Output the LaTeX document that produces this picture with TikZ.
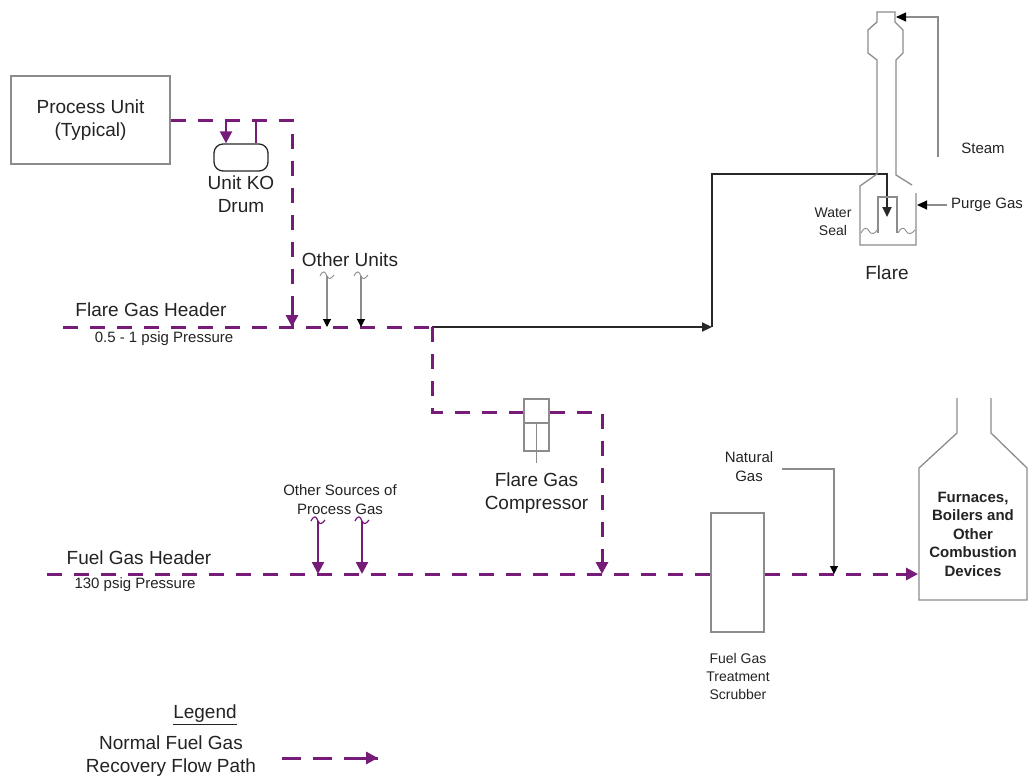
\documentclass[tikz,border=0pt]{standalone}
\usepackage{fontspec}
\setmainfont{Liberation Sans}
\usetikzlibrary{arrows.meta}
\definecolor{pur}{RGB}{118,28,120}
\definecolor{txt}{RGB}{35,35,35}
\definecolor{gry}{RGB}{140,140,140}
\definecolor{blk}{RGB}{40,40,40}
\begin{document}
\begin{tikzpicture}[x=1pt,y=-1pt,
  big/.style={font=\fontsize{19}{23}\selectfont, text=txt, align=center, inner sep=0pt},
  small/.style={font=\fontsize{15}{19}\selectfont, text=txt, align=center, inner sep=0pt},
  tiny/.style={font=\fontsize{14}{18}\selectfont, text=txt, align=center, inner sep=0pt},
  boldlab/.style={font=\bfseries\fontsize{15}{18.5}\selectfont, text=txt, align=center, inner sep=0pt},
  flow/.style={draw=pur, line width=3pt, dash pattern=on 15pt off 12pt},
  flowsolid/.style={draw=pur, line width=3pt},
  purtip/.style={-{Triangle[length=12pt,width=12pt]}},
  thinpur/.style={draw=pur, line width=2.3pt},
  equip/.style={draw=gry, line width=1.3pt},
  feed/.style={draw=gry, line width=1.1pt, -{Triangle[length=8pt,width=8pt,color=black]}},
  flareline/.style={draw=blk, line width=2.2pt},
  blktip/.style={-{Triangle[length=10pt,width=9pt]}},
]
\useasboundingbox (0,0) rectangle (1034,776);

% ---------- Process unit and KO drum
\node[equip, minimum width=159pt, minimum height=88pt, big] (pu) at (90.5,120) {Process Unit\\(Typical)};
\node[equip, draw=blk, rounded corners=9pt, minimum width=54pt, minimum height=27pt, inner sep=0pt] (drum) at (241,157.5) {};
\node[big] (drumlab) at (241,194.5) {Unit KO\\Drum};
\coordinate (in1) at (226,120);
\coordinate (out1) at (256,120);
\coordinate (dropT) at (292,120);
\coordinate (dropB) at (292,327);
\draw[flow] (pu.east) -- (dropT) -- (dropB);
\draw[flowsolid, purtip] (292,305) -- (dropB);
\draw[thinpur, purtip] (in1) -- (drum.north -| in1);
\draw[thinpur] (drum.north -| out1) -- (out1);

% ---------- Flare gas header
\coordinate (fgL) at (63,327);
\coordinate (fgJ) at (432,327);
\draw[flow] (fgL) -- (fgJ);
\node[big] (fghlab) at (151,310) {Flare Gas Header};
\node[small] (fghp) at (164,339) {0.5 - 1 psig Pressure};

% Other units
\node[big] (oulab) at (350,260) {Other Units};
\foreach \x/\n in {327/ua,361/ub}{
  \coordinate (\n) at (\x,276);
  \coordinate (\n h) at (\x,327);
  \draw[gry, line width=0.9pt] (\x-7,276) .. controls (\x-4,270) and (\x-2,271) .. (\n) .. controls (\x+2,280) and (\x+4,279) .. (\x+7,275);
  \draw[feed] (\n) -- (\n h);
}

% ---------- Line to flare
\coordinate (fl1) at (712,327);
\coordinate (fl2) at (712,174);
\coordinate (fl3) at (887,174);
\coordinate (fl4) at (887,217);
\draw[flareline, blktip] (fgJ) -- (fl1);
\draw[flareline, blktip] (fl1) -- (fl2) -- (fl3) -- (fl4);

% ---------- Flare stack
\draw[equip] (877,174) -- (877,60) -- (868,53) -- (868,30) -- (877,22) -- (877,12) -- (895,12) -- (895,22) -- (903,30) -- (903,53) -- (896,60) -- (896,175) -- (912,185);
\draw[equip] (916,193) -- (916,245) -- (860,245) -- (860,186) -- (877,174);
\draw[equip] (878,233) -- (878,197) -- (897,197) -- (897,233);
\draw[gry, line width=0.9pt] (861,233) .. controls (864,227) and (867,227) .. (869,231) .. controls (871,235) and (875,234) .. (877,230);
\draw[gry, line width=0.9pt] (898,233) .. controls (901,227) and (904,227) .. (906,231) .. controls (908,235) and (912,234) .. (915,230);
\coordinate (stA) at (938,157);
\coordinate (stB) at (938,17);
\coordinate (stC) at (896,17);
\draw[gry, line width=1.1pt, -{Triangle[length=10pt,width=9pt,color=black]}] (stA) -- (stB) -- (stC);
\coordinate (pgA) at (947,205);
\coordinate (pgB) at (917,205);
\draw[gry, line width=1.1pt, -{Triangle[length=10pt,width=9pt,color=black]}] (pgA) -- (pgB);
\node[small] (steamlab) at (983,148) {Steam};
\node[small] (purgelab) at (987,205) {Purge Gas};
\node[tiny] (wslab) at (833,222) {Water\\Seal};
\node[big] (flarelab) at (887,273) {Flare};

% ---------- Compressor
\node[equip, minimum width=25pt, minimum height=52pt, inner sep=0pt] (comp) at (536.5,425) {};
\draw[gry, line width=2.4pt] (comp.west |- 0,423) -- (comp.east |- 0,423);
\coordinate (rod) at (536.5,463);
\draw[equip] (536.5,423) -- (rod);
\node[big] (complab) at (536.5,493.5) {Flare Gas\\Compressor};
\coordinate (c1) at (432,412);
\coordinate (c2) at (602,412);
\coordinate (c3) at (602,574);
\draw[flow] (fgJ) -- (c1) -- (comp.west |- c1);
\draw[flow] (comp.east |- c1) -- (c2) -- (c3);
\draw[flowsolid, purtip] (602,553) -- (c3);

% ---------- Fuel gas header
\node[equip, minimum width=53pt, minimum height=119pt, inner sep=0pt] (scrub) at (737.5,572.5) {};
\node[tiny] (scrublab) at (738,676) {Fuel Gas\\Treatment\\Scrubber};
\coordinate (fuL) at (47,574);
\coordinate (fuR) at (918,574);
\draw[flow] (fuL) -- (scrub.west |- fuL);
\draw[flow] (scrub.east |- fuL) -- (fuR);
\draw[flowsolid, purtip] (896,574) -- (fuR);
\node[big] (fuhlab) at (139,558) {Fuel Gas Header};
\node[small] (fuhp) at (135,585) {130 psig Pressure};

% Other sources
\node[small] (oslab) at (340,500) {Other Sources of\\Process Gas};
\foreach \x/\n in {318/sa,362/sb}{
  \coordinate (\n) at (\x,521);
  \coordinate (\n h) at (\x,574);
  \draw[pur, line width=1.2pt] (\x-7,521) .. controls (\x-4,515) and (\x-2,516) .. (\n) .. controls (\x+2,525) and (\x+4,524) .. (\x+7,520);
  \draw[thinpur, purtip] (\n) -- (\n h);
}

% Natural gas
\node[small] (nglab) at (749,466.5) {Natural\\Gas};
\coordinate (ng1) at (782,469);
\coordinate (ng2) at (834,469);
\coordinate (ng3) at (834,574);
\draw[feed] (ng1) -- (ng2) -- (ng3);

% ---------- Furnace
\draw[equip] (957,398) -- (957,433) -- (919,468) -- (919,600) -- (1027,600) -- (1027,468) -- (991,433) -- (991,398);
\node[boldlab] (furnlab) at (973,534) {Furnaces,\\Boilers and\\Other\\Combustion\\Devices};

% ---------- Legend
\node[big] (leg) at (205,715) {\underline{Legend}};
\node[big] (leglab) at (171,756) {Normal Fuel Gas\\Recovery Flow Path};
\coordinate (lg1) at (282,758);
\coordinate (lg2) at (378,758);
\draw[flow, dash pattern=on 19pt off 12pt] (lg1) -- (lg2);
\draw[flowsolid, purtip] (362,758) -- (lg2);
\end{tikzpicture}
\end{document}
